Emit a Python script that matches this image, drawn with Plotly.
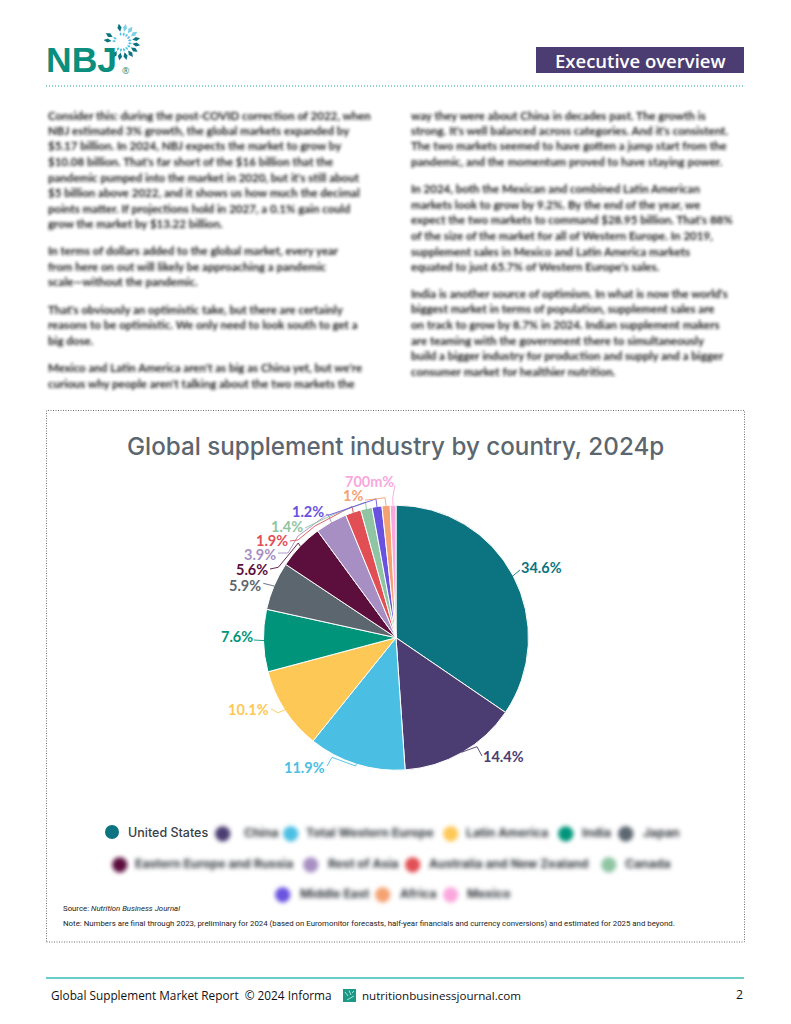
import json
import math
import plotly.graph_objects as go

W, H = 791, 1024

# ---- data ----
categories = ["United States", "China", "Total Western Europe", "Latin America", "India", "Japan",
              "Eastern Europe and Russia", "Rest of Asia", "Australia and New Zealand", "Canada",
              "Middle East", "Africa", "Mexico"]
values = [34.6, 14.4, 11.9, 10.1, 7.6, 5.9, 5.6, 3.9, 1.9, 1.4, 1.2, 1.0, 0.7]
value_labels = ["34.6%", "14.4%", "11.9%", "10.1%", "7.6%", "5.9%", "5.6%", "3.9%", "1.9%", "1.4%", "1.2%", "1%", "700m%"]
colors = ["#0b7480", "#4b3d72", "#4bbfe3", "#fec857", "#00957a", "#5c666f", "#5c0f3d",
          "#a78fc3", "#e14f55", "#8fc5a3", "#6a52e0", "#f5a273", "#f9a7dd"]

title = "Global supplement industry by country, 2024p"
source_note = "Source: <i>Nutrition Business Journal</i>"
method_note = ("Note: Numbers are final through 2023, preliminary for 2024 (based on Euromonitor forecasts, "
               "half-year financials and currency conversions) and estimated for 2025 and beyond.")

left_text = [
    "Consider this: during the post-COVID correction of 2022, when",
    "NBJ estimated 3% growth, the global markets expanded by",
    "$5.17 billion. In 2024, NBJ expects the market to grow by",
    "$10.08 billion. That's far short of the $16 billion that the",
    "pandemic pumped into the market in 2020, but it's still about",
    "$5 billion above 2022, and it shows us how much the decimal",
    "points matter. If projections hold in 2027, a 0.1% gain could",
    "grow the market by $13.22 billion.",
    "In terms of dollars added to the global market, every year",
    "from here on out will likely be approaching a pandemic",
    "scale\u2014without the pandemic.",
    "That's obviously an optimistic take, but there are certainly",
    "reasons to be optimistic. We only need to look south to get a",
    "big dose.",
    "Mexico and Latin America aren't as big as China yet, but we're",
    "curious why people aren't talking about the two markets the",
]
right_text = [
    "way they were about China in decades past. The growth is",
    "strong. It's well balanced across categories. And it's consistent.",
    "The two markets seemed to have gotten a jump start from the",
    "pandemic, and the momentum proved to have staying power.",
    "In 2024, both the Mexican and combined Latin American",
    "markets look to grow by 9.2%. By the end of the year, we",
    "expect the two markets to command $28.95 billion. That's 88%",
    "of the size of the market for all of Western Europe. In 2019,",
    "supplement sales in Mexico and Latin America markets",
    "equated to just 65.7% of Western Europe's sales.",
    "India is another source of optimism. In what is now the world's",
    "biggest market in terms of population, supplement sales are",
    "on track to grow by 8.7% in 2024. Indian supplement makers",
    "are teaming with the government there to simultaneously",
    "build a bigger industry for production and supply and a bigger",
    "consumer market for healthier nutrition.",
]

# ---- layout (pixels on the page) ----
left_y = [115, 130, 145.5, 161, 177, 192, 208, 223, 250, 266, 281, 309, 324, 340, 367, 383]
right_y = [115, 130, 145.5, 161, 188, 204, 219, 235, 251, 266, 293, 308, 324, 340, 355, 371]
CX, CY, R = 396, 637.7, 132
label_anchor = [(520, 567, "left"), (482, 756, "left"), (326, 767, "right"), (270, 709, "right"),
                (254, 636.5, "right"), (262, 585, "right"), (269, 569, "right"), (277, 554, "right"),
                (289, 540, "right"), (304, 526, "right"), (325, 511, "right"), (364, 495, "right"),
                (395, 481, "right")]
leader_routes = [
    [(520, 570)],
    [(477, 746.7), (482, 756)],
    [(355.6, 766), (332, 757.3), (327, 766)],
    [(278, 712.7), (271, 709)],
    [(254, 640)],
    [(263.3, 583.3)],
    [(298.3, 543), (278.3, 567.3), (270, 569)],
    [(328, 514), (298, 536), (288, 553), (278, 553)],
    [(352, 506.5), (315, 526), (298, 540), (290, 541)],
    [(365.5, 502), (330, 516), (305, 528)],
    [(376, 499), (329, 515), (326, 515)],
    [(385, 497.7), (367, 500), (365, 500)],
    [(392.7, 498), (395, 485)],
]
legend_items = [(112, 127, 832), (222, 243, 832), (290, 305, 832), (450, 465, 832), (565, 581, 832), (625, 642, 832),
                (119, 134, 863), (310, 327, 863), (412, 428, 863), (608, 624, 863),
                (282, 299, 893), (382, 399, 893), (450, 466, 893)]


def X(x):
    return x / W


def Y(y):
    return 1 - y / H


def text(s, x, y, size, color="#000", family="Open Sans", anchor="left", weight=None):
    font = dict(size=size, color=color, family=family)
    if weight:
        font["weight"] = weight
    return dict(text=s, x=X(x), y=Y(y), xref="paper", yref="paper", xanchor=anchor, yanchor="middle",
                showarrow=False, font=font, borderpad=0)


def poly(pts, color, width=1, dash=None, fill=None):
    path = "M" + " L".join(f"{X(a):.5f} {Y(b):.5f}" for a, b in pts)
    if fill:
        path += " Z"
    return dict(type="path", xref="paper", yref="paper", path=path,
                line=dict(color=color, width=width, dash=dash) if width else dict(width=0),
                fillcolor=fill)


annotations, shapes = [], []
blur_body, blur_legend = [], []

# page furniture
shapes.append(poly([(46, 86), (744, 86)], "#17a78f", 1, "1px,2px"))
shapes.append(dict(type="rect", xref="paper", yref="paper", x0=X(536), x1=X(744), y0=Y(73), y1=Y(47),
                   fillcolor="#4b3d72", line=dict(width=0)))
annotations.append(text("Executive overview", 640.5, 60.5, 18.5, "#ffffff", weight=600, anchor="center"))
shapes.append(dict(type="rect", xref="paper", yref="paper", x0=X(46.5), x1=X(744.5), y0=Y(942), y1=Y(410.5),
                   line=dict(color="#6f6f6f", width=1, dash="1px,1.5px"), fillcolor="rgba(0,0,0,0)"))
shapes.append(poly([(46, 978), (744, 978)], "#35bdb3", 1.5))
annotations.append(text("Global Supplement Market Report  \u00a9 2024 Informa", 50, 995, 11.8, "#111111"))
shapes.append(dict(type="rect", xref="paper", yref="paper", x0=X(343), x1=X(356), y0=Y(1002), y1=Y(989),
                   fillcolor="#1a9a86", line=dict(width=0)))
for a, b, c, d in [(345, 992, 348, 996), (349, 990.5, 351, 995), (352, 993, 354, 991), (347, 1000, 354, 996)]:
    shapes.append(poly([(a, b), (c, d)], "#d5f0ea", 0.8))
annotations.append(text("nutritionbusinessjournal.com", 361, 995, 11.6, "#111111"))
annotations.append(text("2", 744, 994, 12.3, "#111111", anchor="right"))

# logo
annotations.append(text("<b>NBJ</b>", 45, 60, 35.5, "#0a8f7e", family="Liberation Sans"))
annotations.append(text("\u00ae", 121, 70.5, 9, "#0a8f7e"))
lcx, lcy = 122, 42
for i in range(15):
    deg = -10 + i * 22
    a = math.radians(deg)
    if 230 < deg % 360 < 262:
        continue
    ux, uy = math.sin(a), -math.cos(a)
    px_, py_ = -uy, ux
    col = "#0b7480" if 75 < deg % 360 or deg % 360 < 5 else "#7fd0e6"
    shapes.append(poly([(lcx + ux * 10.5, lcy + uy * 10.5), (lcx + ux * 14.5 + px_ * 2.1, lcy + uy * 14.5 + py_ * 2.1),
                        (lcx + ux * 18.5, lcy + uy * 18.5), (lcx + ux * 14.5 - px_ * 2.1, lcy + uy * 14.5 - py_ * 2.1)],
                       col, 0, fill=col))
    shapes.append(poly([(lcx + ux * 6, lcy + uy * 6), (lcx + ux * 8 + px_ * 1.1, lcy + uy * 8 + py_ * 1.1),
                        (lcx + ux * 10, lcy + uy * 10), (lcx + ux * 8 - px_ * 1.1, lcy + uy * 8 - py_ * 1.1)],
                       "#4bbfe3", 0, fill="#4bbfe3"))

# blurred body copy
for lines, ys, x0 in ((left_text, left_y, 47), (right_text, right_y, 410)):
    for s, y in zip(lines, ys):
        blur_body.append(len(annotations))
        annotations.append(text(f"<b>{s}</b>", x0, y, 11.5, "#1c1c1c", family="Lato"))

# chart text
annotations.append(text(title, 395.5, 446, 24.2, "#5c666f", family="Inter", weight=500, anchor="center"))
annotations.append(text(source_note, 62, 908, 7.8, "#222222", family="Roboto"))
annotations.append(text(method_note, 62, 923, 7.85, "#222222", family="Roboto"))

# pie labels + leader lines, anchored on each slice's mid-angle
total = sum(values)
cum = 0
for v, lab, col, (lx, ly, anc), route in zip(values, value_labels, colors, label_anchor, leader_routes):
    ang = 2 * math.pi * (cum + v / 2) / total
    cum += v
    rim = (CX + R * math.sin(ang), CY - R * math.cos(ang))
    shapes.append(poly([rim] + route, col, 0.9))
    annotations.append(text(lab, lx, ly, 14.5, col, family="Lato", weight=700, anchor=anc))

# legend
for i, (cat, col, (cx_, tx_, ly)) in enumerate(zip(categories, colors, legend_items)):
    if i == 0:
        shapes.append(dict(type="circle", xref="paper", yref="paper", x0=X(cx_ - 7), x1=X(cx_ + 7),
                           y0=Y(ly + 7), y1=Y(ly - 7), fillcolor=col, line=dict(width=0)))
        annotations.append(text(cat, tx_, ly, 12.5, "#3a3f45", family="Inter", weight=500))
    else:
        blur_legend.append(len(annotations))
        annotations.append(text("\u25cf", cx_, ly, 20, col, family="DejaVu Sans", anchor="center"))
        blur_legend.append(len(annotations))
        annotations.append(text(f"<b>{cat}</b>", tx_, ly, 12.2, "#33373c", family="Inter"))

fig = go.Figure(go.Pie(
    labels=categories, values=values, sort=False, direction="clockwise", rotation=0,
    textinfo="none", hoverinfo="label+percent",
    marker=dict(colors=colors, line=dict(color="#ffffff", width=1)),
    domain=dict(x=[X(CX - R - 0.5), X(CX + R + 0.5)], y=[Y(CY + R + 0.5), Y(CY - R - 0.5)]),
))
fig.update_layout(width=W, height=H, margin=dict(l=0, r=0, t=0, b=0), showlegend=False,
                  paper_bgcolor="#ffffff", plot_bgcolor="#ffffff",
                  annotations=annotations, shapes=shapes)

post = """
document.body.style.margin='0';document.body.style.overflow='hidden';
var svg=document.querySelector('.main-svg');
var ns='http://www.w3.org/2000/svg';
var defs=document.createElementNS(ns,'defs');
[['blurBody',1.6],['blurLegend',2.1]].forEach(function(f){
  var e=document.createElementNS(ns,'filter');e.setAttribute('id',f[0]);
  e.setAttribute('x','-10%');e.setAttribute('y','-100%');e.setAttribute('width','120%');e.setAttribute('height','300%');
  var g=document.createElementNS(ns,'feGaussianBlur');g.setAttribute('stdDeviation',f[1]);
  e.appendChild(g);defs.appendChild(e);
});
svg.appendChild(defs);
function apply(list,id){list.forEach(function(i){
  var el=document.querySelector('.annotation[data-index="'+i+'"]');
  if(el){el.setAttribute('filter','url(#'+id+')');}
});}
apply(__BODY__,'blurBody');apply(__LEGEND__,'blurLegend');
""".replace("__BODY__", json.dumps(blur_body)).replace("__LEGEND__", json.dumps(blur_legend))
fig.write_html("out.html", config=dict(displayModeBar=False), post_script=post)
